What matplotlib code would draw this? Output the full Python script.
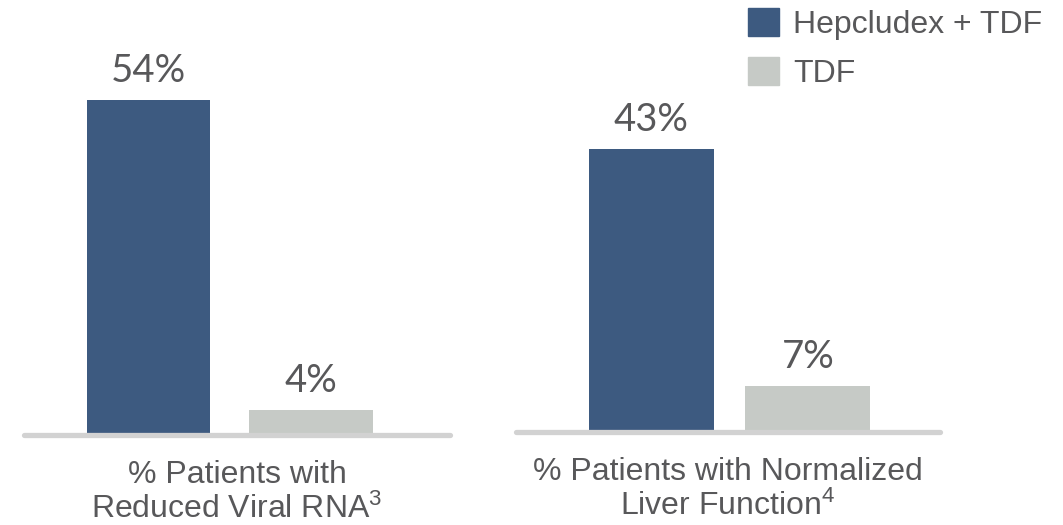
import matplotlib.pyplot as plt
from matplotlib.patches import Patch

plt.rcParams['mathtext.fontset'] = 'custom'
plt.rcParams['mathtext.rm'] = 'Liberation Sans'
plt.rcParams['mathtext.default'] = 'regular'

series = ['Hepcludex + TDF', 'TDF']
colors = ['#3d5a80', '#c6cac6']
left_title = '% Patients with\nReduced Viral RNA$^{3}$'
right_title = '% Patients with Normalized\nLiver Function$^{4}$'
viral_rna = [54, 4]
liver_fn = [43, 7]

text_col = '#58585a'
fig = plt.figure(figsize=(10.63, 5.25), dpi=100)

def panel(rect, values, title, xlim, ymax, width):
    ax = fig.add_axes(rect)
    bars = ax.bar(range(len(values)), values, width=width, color=colors, zorder=2)
    for b, v in zip(bars, values):
        ax.annotate(f'{v}%', (b.get_x() + b.get_width() / 2, v), xytext=(0, 8),
                    textcoords='offset points', ha='center', va='bottom',
                    fontsize=27.5, color=text_col, family='Lato')
    ax.set_xlim(*xlim)
    ax.set_ylim(0, ymax)
    ax.axhline(0, color='#d2d2d2', lw=3.8, solid_capstyle='round', zorder=3, clip_on=False)
    ax.axis('off')
    ax.text(0.5, -0.057, title, transform=ax.transAxes, ha='center', va='top',
            fontsize=23, color=text_col, family='Liberation Sans', linespacing=1.17)
    return ax

W, H = 1063, 525
panel([24 / W, 90 / H, 426 / W, 435 / H], viral_rna, left_title,
      (-0.765, 1.855), 54 * 435 / 335, 0.76)
panel([516 / W, 93 / H, 424 / W, 432 / H], liver_fn, right_title,
      (-0.865, 1.845), 43 * 432 / 283, 0.8)

handles = [Patch(color=c) for c in colors]
fig.legend(handles, series, loc='upper left', bbox_to_anchor=(740 / W, 1.0),
           frameon=False, prop={'family': 'Liberation Sans', 'size': 23},
           labelcolor=text_col, handlelength=0.97, handleheight=0.97,
           handletextpad=0.44, labelspacing=0.53, borderaxespad=0, borderpad=0.25)

fig.savefig('out.png', dpi=100)
